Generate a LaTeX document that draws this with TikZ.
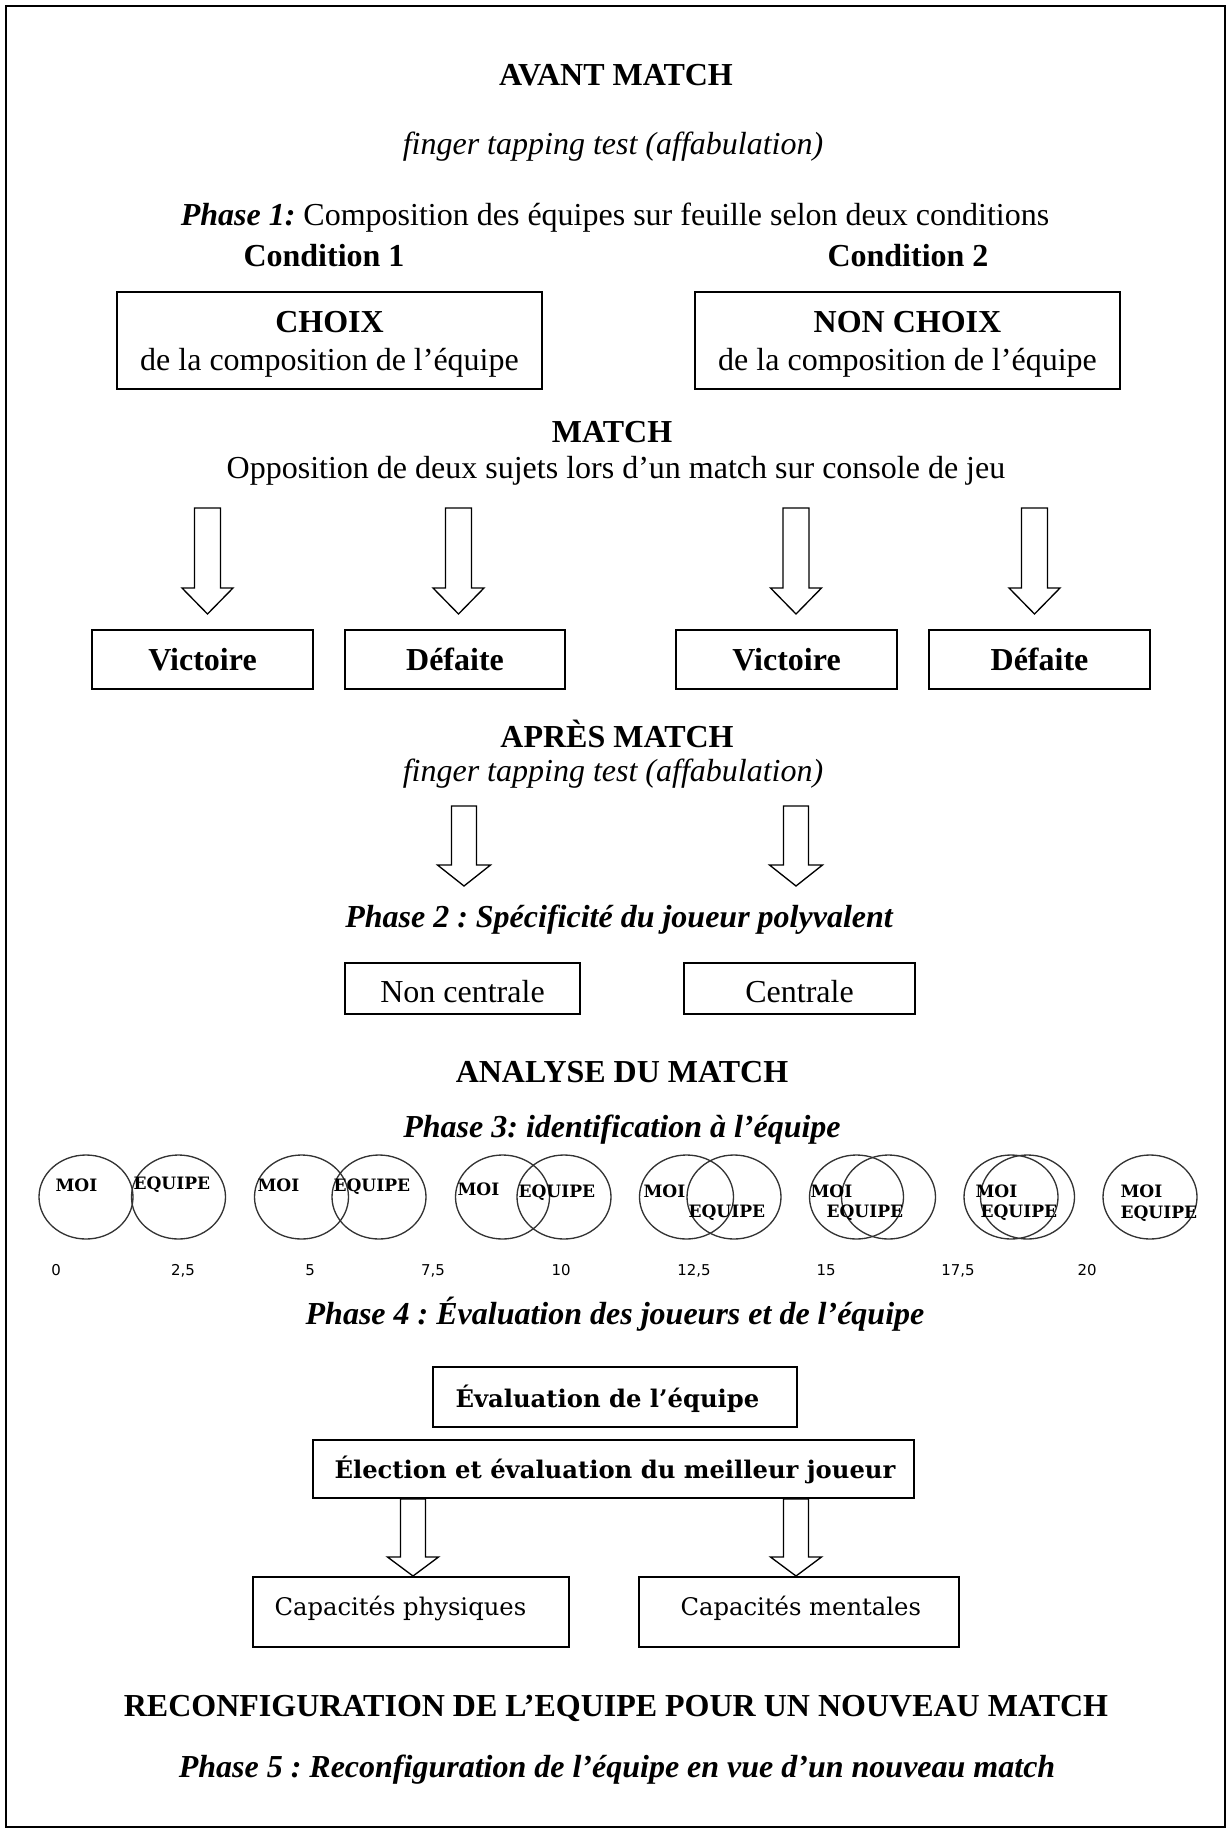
\documentclass[tikz,border=0pt]{standalone}
\usepackage{fontspec}
\setmainfont{Liberation Serif}
\newfontfamily\cambriaf{DejaVu Serif}
\newfontfamily\verdf{DejaVu Sans}
\usetikzlibrary{calc,shapes.geometric}
\frenchspacing
\newcommand\pxu{0.375pt}
% block arrow: #1 top coordinate, #2 tip coordinate, #3 shaft half width, #4 head half width, #5 head length
\newcommand\blkarrow[5]{%
  \draw[blockarr] ($(#1)+(-#3,0)$) -- ($(#2)+(-#3,-#5)$) -- ($(#2)+(-#4,-#5)$) -- (#2)
    -- ($(#2)+(#4,-#5)$) -- ($(#2)+(#3,-#5)$) -- ($(#1)+(#3,0)$) -- cycle;}
\begin{document}
\frenchspacing
\begin{tikzpicture}[x=0.375pt,y=-0.375pt,
  txt/.style={inner sep=0pt, anchor=base, font=\fontsize{12}{14}\selectfont},
  bld/.style={txt, font=\fontsize{12}{14}\selectfont\bfseries},
  itl/.style={txt, font=\fontsize{12}{14}\selectfont\itshape},
  bit/.style={txt, font=\fontsize{12}{14}\selectfont\bfseries\itshape},
  box/.style={draw, line width=0.75pt, inner sep=0pt, rectangle},
  cambb/.style={inner sep=0pt, anchor=base west, font=\cambriaf\fontsize{9.1}{11}\selectfont\bfseries},
  cambr/.style={inner sep=0pt, anchor=base west, font=\cambriaf\fontsize{9.1}{11}\selectfont},
  circ/.style={draw=black!80, line width=0.5pt, ellipse, inner sep=0pt,
    minimum width=35.25pt, minimum height=31.5pt},
  clab/.style={inner sep=0pt, anchor=base west, font=\cambriaf\fontsize{6.4}{7}\selectfont\bfseries},
  num/.style={inner sep=0pt, anchor=base, font=\verdf\fontsize{5.6}{6}\selectfont, text=black},
  blockarr/.style={draw, line width=0.5pt, fill=white, line join=miter}
]
\useasboundingbox (0,0) rectangle (1228,1832);
\draw[line width=0.75pt] (6,6) rectangle (1225,1827);

% ---------- AVANT MATCH ----------
\node[bld] (avant) at (616,86) {AVANT MATCH};
\node[itl] (ftt1) at (613,155) {finger tapping test (affabulation)};
\node[txt] (ph1) at (615,226) {\textbf{\textit{Phase 1:}} Composition des équipes sur feuille selon deux conditions};
\node[bld] (cond1) at (324,267) {Condition 1};
\node[bld] (cond2) at (908,267) {Condition 2};

\node[box, minimum width=425*\pxu, minimum height=97*\pxu] (choix) at (329.5,340.5) {};
\node[bld] (choixt) at (329.5,333) {CHOIX};
\node[txt] (choixs) at (329.5,371) {de la composition de l’équipe};
\node[box, minimum width=425*\pxu, minimum height=97*\pxu] (nchoix) at (907.5,340.5) {};
\node[bld] (nchoixt) at (907.5,333) {NON CHOIX};
\node[txt] (nchoixs) at (907.5,371) {de la composition de l’équipe};

% ---------- MATCH ----------
\node[bld] (match) at (612,442) {MATCH};
\node[txt] (opp) at (616,479) {Opposition de deux sujets lors d’un match sur console de jeu};

\node[box, minimum width=221*\pxu, minimum height=59*\pxu] (vic1) at (202.5,659.5) {};
\node[bld] (vic1t) at (202.5,670) {Victoire};
\node[box, minimum width=220*\pxu, minimum height=59*\pxu] (def1) at (455,659.5) {};
\node[bld] (def1t) at (455,670) {Défaite};
\node[box, minimum width=221*\pxu, minimum height=59*\pxu] (vic2) at (786.5,659.5) {};
\node[bld] (vic2t) at (786.5,670) {Victoire};
\node[box, minimum width=221*\pxu, minimum height=59*\pxu] (def2) at (1039.5,659.5) {};
\node[bld] (def2t) at (1039.5,670) {Défaite};

\coordinate (a1t) at (207.5,508); \coordinate (a1b) at (207.5,614);
\coordinate (a2t) at (458.5,508); \coordinate (a2b) at (458.5,614);
\coordinate (a3t) at (796,508);   \coordinate (a3b) at (796,614);
\coordinate (a4t) at (1034.5,508);\coordinate (a4b) at (1034.5,614);
\blkarrow{a1t}{a1b}{13}{25.5}{26}
\blkarrow{a2t}{a2b}{13}{25.5}{26}
\blkarrow{a3t}{a3b}{13}{25.5}{26}
\blkarrow{a4t}{a4b}{13}{25.5}{26}

% ---------- APRES MATCH ----------
\node[bld] (apres) at (617,747) {APRÈS MATCH};
\node[itl] (ftt2) at (613,781) {finger tapping test (affabulation)};
\coordinate (a5t) at (464,806); \coordinate (a5b) at (464,886);
\coordinate (a6t) at (796,806); \coordinate (a6b) at (796,886);
\blkarrow{a5t}{a5b}{12.5}{26.5}{21}
\blkarrow{a6t}{a6b}{12.5}{26.5}{21}

\node[bit] (ph2) at (619,927) {Phase 2 : Spécificité du joueur polyvalent};
\node[box, minimum width=235*\pxu, minimum height=51*\pxu] (ncent) at (462.5,988.5) {};
\node[txt] (ncentt) at (462.5,1002) {Non centrale};
\node[box, minimum width=231*\pxu, minimum height=51*\pxu] (cent) at (799.5,988.5) {};
\node[txt] (centt) at (799.5,1002) {Centrale};

% ---------- ANALYSE ----------
\node[bld] (analyse) at (622,1082) {ANALYSE DU MATCH};
\node[bit] (ph3) at (622,1137) {Phase 3: identification à l’équipe};

\node[circ] (c1a) at (86,1197) {};
\node[circ] (c1b) at (178.5,1197) {};
\node[circ] (c2a) at (301.5,1197) {};
\node[circ] (c2b) at (379,1197) {};
\node[circ] (c3a) at (502.5,1197) {};
\node[circ] (c3b) at (564,1197) {};
\node[circ] (c4a) at (686.5,1197) {};
\node[circ] (c4b) at (734,1197) {};
\node[circ] (c5a) at (856.5,1197) {};
\node[circ] (c5b) at (888.5,1197) {};
\node[circ] (c6a) at (1011,1197) {};
\node[circ] (c6b) at (1027.5,1197) {};
\node[circ] (c7) at (1150,1197) {};

\node[clab] (m1) at (55,1191) {MOI};   \node[clab] (e1) at (133,1189) {EQUIPE};
\node[clab] (m2) at (257,1191) {MOI};  \node[clab] (e2) at (333,1191) {EQUIPE};
\node[clab] (m3) at (457,1195) {MOI};  \node[clab] (e3) at (518,1197) {EQUIPE};
\node[clab] (m4) at (643,1197) {MOI};  \node[clab] (e4) at (688,1217) {EQUIPE};
\node[clab] (m5) at (810,1197) {MOI};  \node[clab] (e5) at (826,1217) {EQUIPE};
\node[clab] (m6) at (975,1197) {MOI};  \node[clab] (e6) at (980,1217) {EQUIPE};
\node[clab] (m7) at (1120,1197) {MOI}; \node[clab] (e7) at (1120,1218) {EQUIPE};

\node[num] (n0) at (56,1275) {0};
\node[num] (n1) at (183,1275) {2,5};
\node[num] (n2) at (310,1275) {5};
\node[num] (n3) at (433,1275) {7,5};
\node[num] (n4) at (561,1275) {10};
\node[num] (n5) at (694,1275) {12,5};
\node[num] (n6) at (826,1275) {15};
\node[num] (n7) at (958,1275) {17,5};
\node[num] (n8) at (1087,1275) {20};

% ---------- PHASE 4 ----------
\node[bit] (ph4) at (615,1324) {Phase 4 : Évaluation des joueurs et de l’équipe};
\node[box, minimum width=364*\pxu, minimum height=60*\pxu] (evalb) at (615,1397) {};
\node[cambb] (evalt) at (455,1407) {Évaluation de l’équipe};
\node[box, minimum width=601*\pxu, minimum height=58*\pxu] (elec) at (613.5,1469) {};
\node[cambb] (elect) at (334,1478) {Élection et évaluation du meilleur joueur};
\node[box, minimum width=316*\pxu, minimum height=70*\pxu] (capph) at (411,1612) {};
\node[cambr] (capht) at (274,1615) {Capacités physiques};
\node[box, minimum width=320*\pxu, minimum height=70*\pxu] (capme) at (799,1612) {};
\node[cambr] (capmt) at (680,1615) {Capacités mentales};

\coordinate (a7t) at (413,0 |- elec.south);  \coordinate (a7b) at (413,0 |- capph.north);
\coordinate (a8t) at (796,0 |- elec.south);  \coordinate (a8b) at (796,0 |- capme.north);
\blkarrow{a7t}{a7b}{12.5}{25.5}{19}
\blkarrow{a8t}{a8b}{12.5}{25.5}{19}

% ---------- RECONFIGURATION ----------
\node[bld] (reconf) at (616,1716) {RECONFIGURATION DE L’EQUIPE POUR UN NOUVEAU MATCH};
\node[bit] (ph5) at (617,1777) {Phase 5 : Reconfiguration de l’équipe en vue d’un nouveau match};
\end{tikzpicture}
\end{document}
